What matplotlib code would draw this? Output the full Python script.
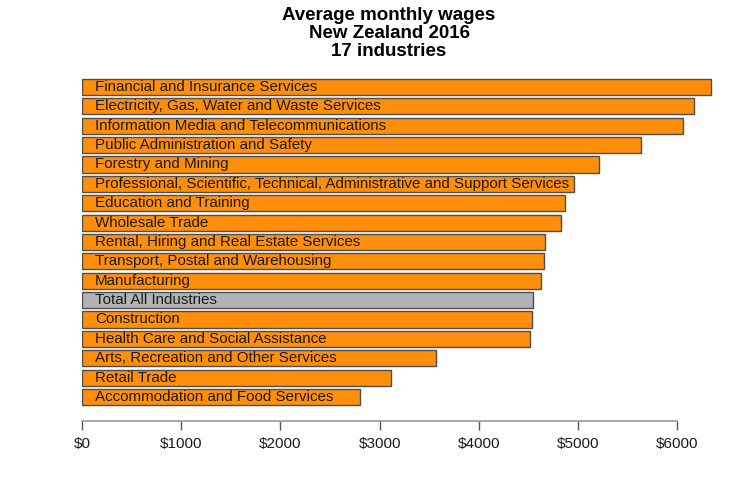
import matplotlib
matplotlib.use("Agg")
import matplotlib.pyplot as plt

industries = [
    "Financial and Insurance Services",
    "Electricity, Gas, Water and Waste Services",
    "Information Media and Telecommunications",
    "Public Administration and Safety",
    "Forestry and Mining",
    "Professional, Scientific, Technical, Administrative and Support Services",
    "Education and Training",
    "Wholesale Trade",
    "Rental, Hiring and Real Estate Services",
    "Transport, Postal and Warehousing",
    "Manufacturing",
    "Total All Industries",
    "Construction",
    "Health Care and Social Assistance",
    "Arts, Recreation and Other Services",
    "Retail Trade",
    "Accommodation and Food Services",
]
wages = [6336, 6170, 6056, 5636, 5207, 4961, 4867, 4827, 4672, 4658,
         4632, 4551, 4534, 4514, 3570, 3113, 2807]
tick_values = [0, 1000, 2000, 3000, 4000, 5000, 6000]
tick_labels = ["$0", "$1000", "$2000", "$3000", "$4000", "$5000", "$6000"]

plt.rcParams['font.family'] = ['Liberation Sans', 'DejaVu Sans']

W, H = 750, 500
fig = plt.figure(figsize=(7.5, 5), dpi=100)
ax = fig.add_axes([82 / W, 1 - 410 / H, (720 - 82) / W, (410 - 70) / H])

n = len(industries)
ypos = [n - 1 - i for i in range(n)]
colors = ["#B3B3B3" if name.startswith("Total") else "#FF8F0A" for name in industries]
ax.barh(ypos, wages, height=0.833, color=colors, edgecolor="#4d4d4d", linewidth=1.0)
for y, name in zip(ypos, industries):
    ax.text(130, y, name, va="center", ha="left", fontsize=10.9, color="#1a1a1a")

ax.set_xlim(0, (720 - 82) / 99.2 * 1000)
ax.set_ylim(-0.671, 16.877)

for s in ["top", "right", "left"]:
    ax.spines[s].set_visible(False)
ax.spines["bottom"].set_position(("outward", 8))
ax.spines["bottom"].set_bounds(0, 6000)
ax.spines["bottom"].set_color("#999999")
ax.spines["bottom"].set_linewidth(1.2)
ax.set_yticks([])
ax.set_xticks(tick_values)
ax.set_xticklabels(tick_labels, fontsize=11, color="#1a1a1a")
ax.tick_params(axis="x", length=6.5, width=1, color="#555555", pad=5)

fig.text(389 / W, 1 - 7 / H, "Average monthly wages\nNew Zealand 2016\n17 industries",
         ha="center", va="top", fontsize=13.5, fontweight="bold", linespacing=1.07)

fig.savefig("out.png", dpi=100)
